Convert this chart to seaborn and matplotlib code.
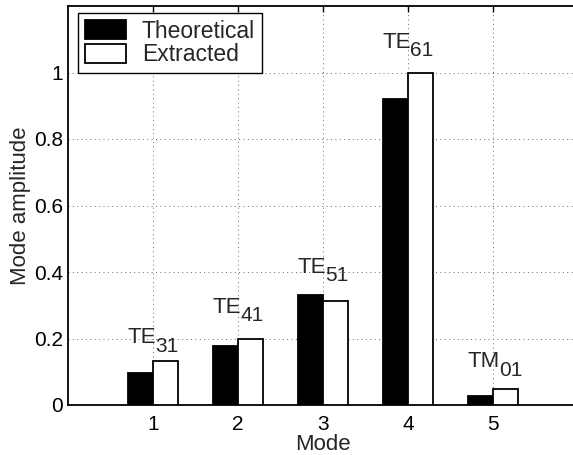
import matplotlib
matplotlib.use("Agg")
import matplotlib.pyplot as plt
from matplotlib.patches import Patch
import seaborn as sns
import pandas as pd

modes = [1, 2, 3, 4, 5]
theoretical = [0.097, 0.177, 0.331, 0.920, 0.028]
extracted = [0.132, 0.200, 0.313, 1.000, 0.048]
series_names = ["Theoretical", "Extracted"]
label_main = ["TE", "TE", "TE", "TE", "TM"]
label_sub = ["31", "41", "51", "61", "01"]
label_y = [0.185, 0.277, 0.398, 1.075, 0.113]
yticks = [0, 0.2, 0.4, 0.6, 0.8, 1.0]
ytick_labels = ["0", "0.2", "0.4", "0.6", "0.8", "1"]

df = pd.DataFrame({
    "Mode": modes * 2,
    "amp": theoretical + extracted,
    "series": [series_names[0]] * len(modes) + [series_names[1]] * len(modes),
})

sns.set_style("white")
plt.rcParams["font.family"] = ["Liberation Sans", "DejaVu Sans"]

fig = plt.figure(figsize=(5.73, 4.55), dpi=100)
ax = fig.add_axes([68 / 573, 50 / 455, 510 / 573, 399 / 455])

sns.barplot(data=df, x="Mode", y="amp", hue="series", hue_order=series_names,
            native_scale=True, width=0.58, palette=["black", "white"],
            edgecolor="black", linewidth=1.3, errorbar=None, legend=False,
            ax=ax, zorder=3)

ax.set_xlim(0, 6)
ax.set_ylim(0, 1.2)
ax.set_xticks(modes)
ax.set_xticklabels([str(m) for m in modes])
ax.set_yticks(yticks)
ax.set_yticklabels(ytick_labels)
ax.grid(True, color="#666666", linestyle=(0, (1, 3.5)), linewidth=0.7, zorder=0)
ax.set_axisbelow(True)
for name, s in ax.spines.items():
    s.set_visible(True)
    s.set_color("black")
    s.set_linewidth(1.3)
ax.spines["right"].set_visible(False)
ax.tick_params(direction="in", length=4, width=1, top=True, right=False,
               labelsize=15, colors="black")
ax.tick_params(axis="x", pad=7)
ax.tick_params(axis="y", pad=3.5)
ax.set_xlabel("Mode", fontsize=16, labelpad=0)
ax.set_ylabel("Mode amplitude", fontsize=16, labelpad=2)

for i, m in enumerate(modes):
    t = ax.text(m - 0.3, label_y[i], label_main[i], fontsize=16,
                ha="left", va="baseline", zorder=5)
    ax.annotate(label_sub[i], xy=(1, 0), xycoords=t, xytext=(-0.5, -2.5),
                textcoords="offset points", fontsize=15, ha="left",
                va="baseline", zorder=5)

handles = [Patch(facecolor="black", edgecolor="black", linewidth=1.3),
           Patch(facecolor="white", edgecolor="black", linewidth=1.3)]
leg = ax.legend(handles, series_names, loc="upper left",
                bbox_to_anchor=(9.7 / 510, 1 - 6.7 / 399), borderaxespad=0,
                fontsize=16.5, frameon=True, fancybox=False, framealpha=1,
                edgecolor="black", handlelength=1.8, handleheight=0.9,
                handletextpad=0.7, labelspacing=0.02, borderpad=0.3)
leg.get_frame().set_linewidth(1.0)

fig.savefig("out.png", dpi=100)
